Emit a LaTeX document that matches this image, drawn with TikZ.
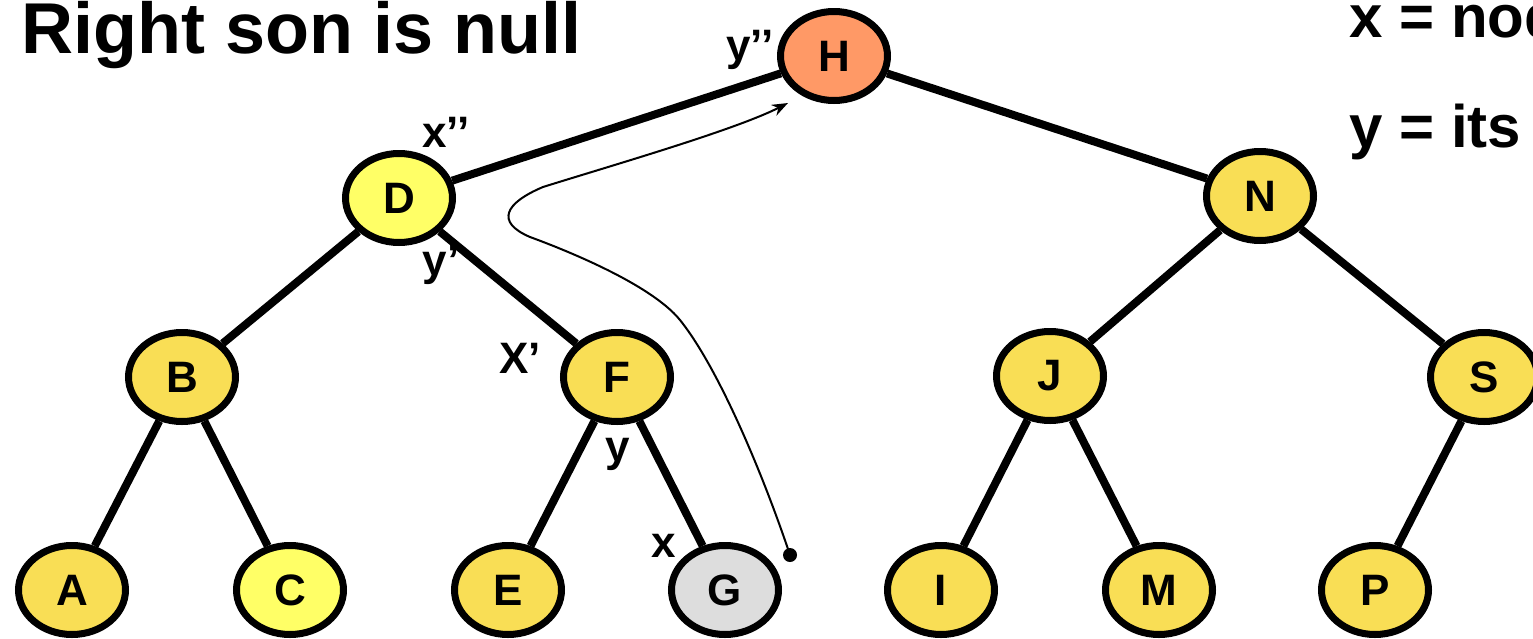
\documentclass[tikz,border=0pt]{standalone}
\usepackage{fontspec}
\setmainfont{Liberation Sans}
\usetikzlibrary{shapes.geometric,arrows.meta}
\definecolor{gold}{HTML}{F9DE55}
\definecolor{lemon}{HTML}{FFFF66}
\definecolor{salmon}{HTML}{FF9966}
\definecolor{lgray}{HTML}{DDDDDD}
\tikzset{
  tnode/.style={ellipse, draw=black, line width=3.5pt, fill=gold,
    minimum width=53.5pt, minimum height=44.5pt, inner sep=0pt,
    font=\fontsize{22}{24}\bfseries\selectfont},
  edge/.style={line width=4pt},
  lbl/.style={anchor=base, inner sep=0pt, font=\fontsize{22}{24}\bfseries\selectfont},
  bigtxt/.style={anchor=base west, inner sep=0pt, font=\fontsize{36}{40}\bfseries\selectfont},
  sidetxt/.style={anchor=base west, inner sep=0pt, font=\fontsize{30}{34}\bfseries\selectfont},
  curve/.style={line width=1pt, -{Stealth[length=8pt,width=6pt]}}
}
\begin{document}
\begin{tikzpicture}[x=0.5pt,y=-0.5pt]
\useasboundingbox (0,0) rectangle (1533,638);
\clip (0,0) rectangle (1533,638);
% nodes
\node[tnode, fill=salmon] (H) at (834,56) {H};
\node[tnode, fill=lemon] (D) at (399,198) {D};
\node[tnode] (N) at (1260,196) {N};
\node[tnode] (B) at (182,377) {B};
\node[tnode] (F) at (617,377) {F};
\node[tnode] (J) at (1050,376) {J};
\node[tnode] (S) at (1484,377) {S};
\node[tnode] (A) at (72,590) {A};
\node[tnode, fill=lemon] (C) at (290,590) {C};
\node[tnode] (E) at (508,590) {E};
\node[tnode, fill=lgray] (G) at (725,590) {G};
\node[tnode] (I) at (941,590) {I};
\node[tnode] (M) at (1159,590) {M};
\node[tnode] (P) at (1375,590) {P};
% edges
\draw[edge] (H) -- (D);
\draw[edge] (H) -- (N);
\draw[edge] (D) -- (B);
\draw[edge] (D) -- (F);
\draw[edge] (B) -- (A);
\draw[edge] (B) -- (C);
\draw[edge] (F) -- (E);
\draw[edge] (F) -- (G);
\draw[edge] (N) -- (J);
\draw[edge] (N) -- (S);
\draw[edge] (J) -- (I);
\draw[edge] (J) -- (M);
\draw[edge] (S) -- (P);
% labels
\node[lbl] (lyy) at (750,60) {y’’};
\node[lbl] (lxx) at (446,147) {x’’};
\node[lbl] (ly1) at (441,275) {y’};
\node[lbl] (lX1) at (520,373) {X’};
\node[lbl] (ly) at (618,461) {y};
\node[lbl] (lx) at (664,557) {x};
% texts
\node[bigtxt] (title) at (21,53) {Right son is null};
\node[sidetxt] (t1) at (1349,37) {x = node};
\node[sidetxt] (t2) at (1349,147) {y = its};
% curve
\coordinate (dot) at (790,555);
\coordinate (tip) at (788,103);
\fill (dot) circle[radius=3.5pt];
\draw[curve] (dot) .. controls (765,480) and (720,370) .. (680,320)
  .. controls (650,283) and (560,248) .. (530,237)
  .. controls (495,222) and (505,203) .. (543,187)
  .. controls (610,166) and (735,130) .. (tip);
\end{tikzpicture}
\end{document}
